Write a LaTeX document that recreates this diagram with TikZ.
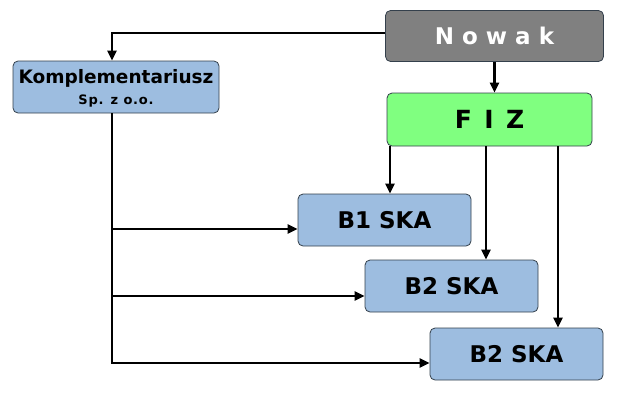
\documentclass[tikz,border=0pt]{standalone}
\usepackage{fontspec}
\setmainfont{DejaVu Sans}
\usetikzlibrary{arrows.meta,positioning}
\definecolor{boxBlue}{HTML}{9DBDE0}
\definecolor{boxGreen}{HTML}{80FF80}
\definecolor{boxGray}{HTML}{808080}
\definecolor{edgeDark}{HTML}{34404C}

\begin{document}
\begin{tikzpicture}[x=1pt,y=-1pt,
    box/.style={draw=edgeDark,line width=0.8pt,rounded corners=5pt,
      inner sep=0pt,minimum height=52pt,font=\bfseries},
    ska/.style={box,fill=boxBlue,minimum width=173pt,
      font=\fontsize{23}{23}\selectfont\bfseries},
    link/.style={line width=2.9pt,-{Triangle[length=10pt,width=9pt]}}]
  \useasboundingbox (0,0) rectangle (640,400);

  \node[box,fill=boxGray,text=white,minimum width=218pt,minimum height=51pt,
    font=\fontsize{23}{23}\selectfont\bfseries] (nowak) at (494.5,36) {N o w a k};
  \node[box,fill=boxBlue,minimum width=206pt,align=center,
    font=\fontsize{18.5}{21}\selectfont\bfseries] (kompl) at (116,87)
    {\rule{0pt}{16pt}Komplementariusz\\{\fontsize{13}{21}\selectfont\addfontfeatures{LetterSpace=6}Sp. z o.o.}};
  \node[box,fill=boxGreen,minimum width=205pt,minimum height=53pt,
    font=\fontsize{25}{25}\selectfont\bfseries] (fiz) at (489.5,119.5)
    {F\enspace I\enspace Z};
  \node[ska] (b1) at (384.5,220) {B1 SKA};
  \node[ska] (b2) at (451.5,286) {B2 SKA};
  \node[ska] (b3) at (516.5,354) {B2 SKA};

  % Nowak -> Komplementariusz, FIZ
  \draw[link] ([yshift=3pt]nowak.west) -| ([xshift=-4pt]kompl.north);
  \draw[link] (nowak.south) -- (nowak.south |- fiz.north);

  % Komplementariusz -> SKA
  \coordinate (trunk) at ([xshift=-4pt]kompl.south);
  \draw[link] (trunk) |- ([yshift=-9pt]b1.west);
  \draw[link] (trunk) |- ([yshift=-10pt]b2.west);
  \draw[link] (trunk) |- ([yshift=-9pt]b3.west);

  % FIZ -> SKA
  \coordinate (b1in) at ([xshift=5.5pt]b1.north);
  \coordinate (b2in) at ([xshift=34.5pt]b2.north);
  \coordinate (b3in) at ([xshift=41.5pt]b3.north);
  \draw[link] (fiz.south -| b1in) -- (b1in);
  \draw[link] (fiz.south -| b2in) -- (b2in);
  \draw[link] (fiz.south -| b3in) -- (b3in);
\end{tikzpicture}
\end{document}
